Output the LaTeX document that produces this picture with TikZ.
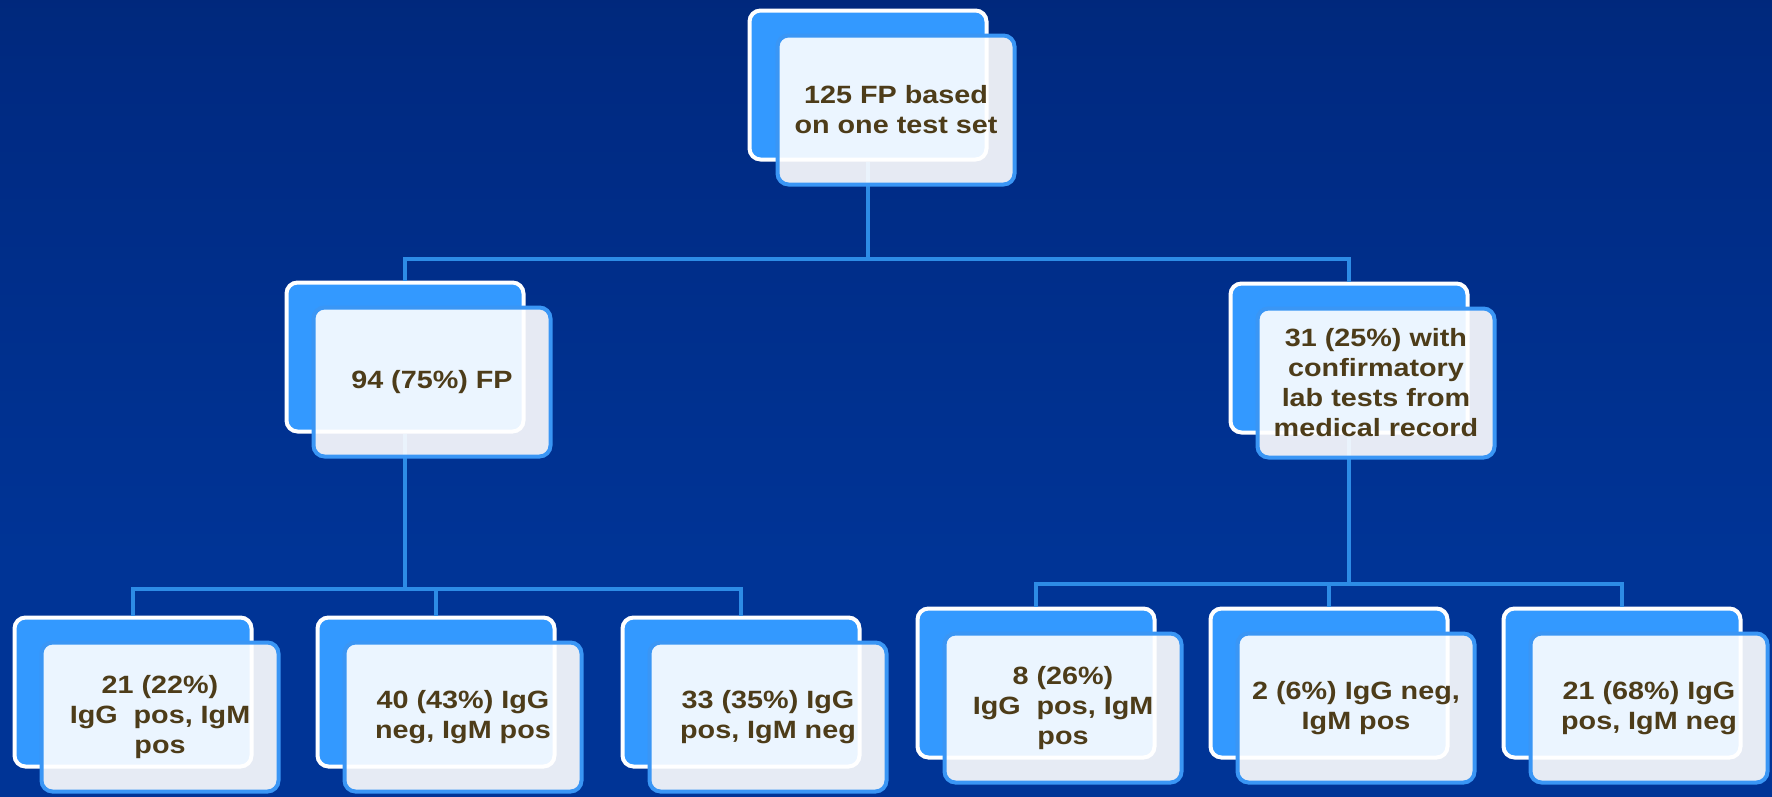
\documentclass[tikz,border=0pt]{standalone}
\usepackage{fontspec}
\setmainfont{Liberation Sans}[FakeStretch=1.15]
\usetikzlibrary{calc}
\definecolor{bgtop}{RGB}{0,32,96}
\definecolor{bgmid}{RGB}{0,42,130}
\definecolor{bgmid2}{RGB}{0,52,150}
\definecolor{bgbot}{RGB}{28,96,166}
\definecolor{boxblue}{RGB}{51,153,255}
\definecolor{frontline}{RGB}{58,150,245}
\definecolor{connc}{RGB}{45,140,230}
\definecolor{textc}{RGB}{77,60,25}
\pgfdeclareverticalshading{bgshade}{100bp}{color(0bp)=(bgbot); color(12bp)=(bgmid2); color(40bp)=(bgmid2); color(70bp)=(bgmid); color(100bp)=(bgtop)}
\begin{document}
\begin{tikzpicture}[x=1pt,y=-1pt,
  backbox/.style={draw=white, line width=4pt, fill=boxblue, rounded corners=11pt,
    minimum width=237pt, minimum height=149pt, inner sep=0pt},
  frontbox/.style={draw=frontline, line width=4pt, fill=white, fill opacity=0.9,
    text opacity=1, rounded corners=11pt, minimum width=237pt, minimum height=149pt,
    inner sep=0pt, align=center, font=\fontsize{25}{30}\selectfont\bfseries, text=textc},
  conn/.style={draw=connc, line width=4pt}]
\useasboundingbox (0,0) rectangle (1772,796);
\shade[shading=bgshade] (0,0) rectangle (1772,796);
% back boxes
\node[backbox] (top) at (868,85) {};
\node[backbox] (L) at (405,357) {};
\node[backbox] (R) at (1349,358) {};
\node[backbox] (LL1) at (133,692) {};
\node[backbox] (LL2) at (436,692) {};
\node[backbox] (LL3) at (741,692) {};
\node[backbox] (RR1) at (1036,683) {};
\node[backbox] (RR2) at (1329,683) {};
\node[backbox] (RR3) at (1622,683) {};
% connectors
\coordinate (j1) at ($(top.south |- 0,259)$);
\draw[conn] (top.south) -- (j1);
\draw[conn] (L.north) -- (L.north |- j1) -- (R.north |- j1) -- (R.north);
\coordinate (j2) at ($(L.south |- 0,589)$);
\draw[conn] (L.south) -- (j2);
\draw[conn] (LL1.north) -- (LL1.north |- j2) -- (LL3.north |- j2) -- (LL3.north);
\draw[conn] (LL2.north) -- (LL2.north |- j2);
\coordinate (j3) at ($(R.south |- 0,584)$);
\draw[conn] (R.south) -- (j3);
\draw[conn] (RR1.north) -- (RR1.north |- j3) -- (RR3.north |- j3) -- (RR3.north);
\draw[conn] (RR2.north) -- (RR2.north |- j3);
% front boxes
\node[frontbox] (topf) at ($(top)+(28,25)$) {125 FP based\\on one test set};
\node[frontbox] (Lf) at ($(L)+(27,25)$) {94 (75\%) FP};
\node[frontbox] (Rf) at ($(R)+(27,25)$) {31 (25\%) with\\confirmatory\\lab tests from\\medical record};
\node[frontbox] (LL1f) at ($(LL1)+(27,25)$) {21 (22\%)\\IgG\ \ pos, IgM\\pos};
\node[frontbox] (LL2f) at ($(LL2)+(27,25)$) {40 (43\%) IgG\\neg, IgM pos};
\node[frontbox] (LL3f) at ($(LL3)+(27,25)$) {33 (35\%) IgG\\pos, IgM neg};
\node[frontbox] (RR1f) at ($(RR1)+(27,25)$) {8 (26\%)\\IgG\ \ pos, IgM\\pos};
\node[frontbox] (RR2f) at ($(RR2)+(27,25)$) {2 (6\%) IgG neg,\\IgM pos};
\node[frontbox] (RR3f) at ($(RR3)+(27,25)$) {21 (68\%) IgG\\pos, IgM neg};
\end{tikzpicture}
\end{document}
